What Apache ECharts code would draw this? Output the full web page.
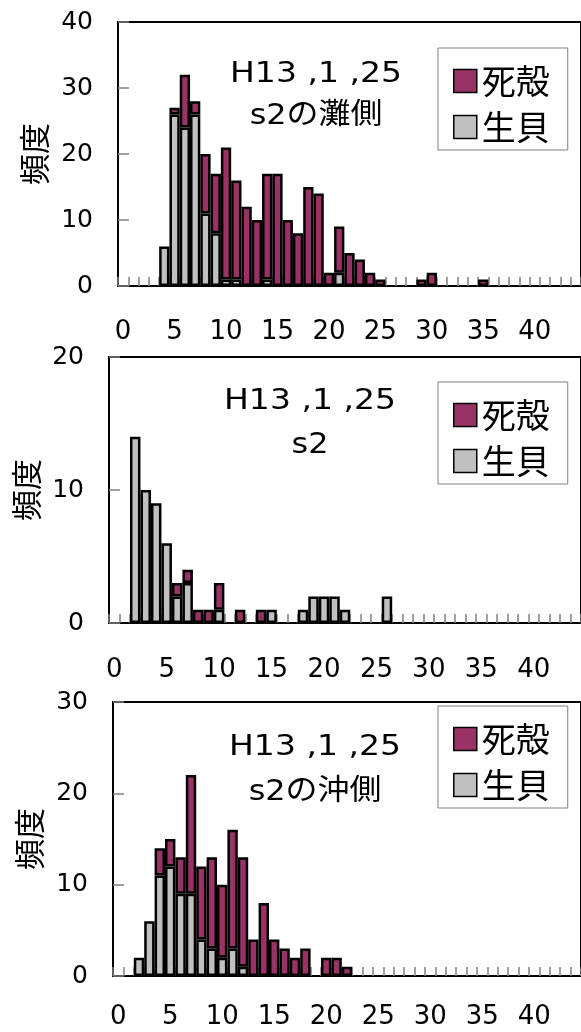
<!DOCTYPE html>
<html>
<head>
<meta charset="utf-8">
<script src="https://cdn.jsdelivr.net/npm/echarts@6/dist/echarts.min.js"></script>
<style>
  html, body { margin: 0; padding: 0; background: #fff; }
  #chart { width: 581px; height: 1032px; }
</style>
</head>
<body>
<div id="chart"></div>
<script>
// Size classes (mm), shared by all three panels
const categories = ['0','1','2','3','4','5','6','7','8','9','10','11','12','13','14','15','16','17','18','19','20','21','22','23','24','25','26','27','28','29','30','31','32','33','34','35','36','37','38','39','40','41','42','43','44'];

// Panel 1: H13,1,25 st2の灘側
const live1 = [0,0,0,0,6,26,24,26,11,8,1,1,0,0,1,0,0,0,0,0,0,2,0,0,0,0,0,0,0,0,0,0,0,0,0,0,0,0,0,0,0,0,0,0,0];
const dead1 = [0,0,0,0,0,1,8,2,9,9,20,15,12,10,16,17,10,8,15,14,2,7,5,4,2,1,0,0,0,1,2,0,0,0,0,1,0,0,0,0,0,0,0,0,0];

// Panel 2: H13,1,25 st2
const live2 = [0,0,14,10,9,6,2,3,0,0,1,0,0,0,0,1,0,0,1,2,2,2,1,0,0,0,2,0,0,0,0,0,0,0,0,0,0,0,0,0,0,0,0,0,0];
const dead2 = [0,0,0,0,0,0,1,1,1,1,2,0,1,0,1,0,0,0,0,0,0,0,0,0,0,0,0,0,0,0,0,0,0,0,0,0,0,0,0,0,0,0,0,0,0];

// Panel 3: H13,1,25 st2の沖側
const live3 = [0,0,2,6,11,12,9,9,4,3,2,3,1,0,0,0,0,0,0,0,0,0,0,0,0,0,0,0,0,0,0,0,0,0,0,0,0,0,0,0,0,0,0,0,0];
const dead3 = [0,0,0,0,3,3,4,13,8,10,8,13,12,4,8,4,3,2,3,0,2,2,1,0,0,0,0,0,0,0,0,0,0,0,0,0,0,0,0,0,0,0,0,0,0];

const yMax = [40, 20, 30];
const titles1 = ['H13 ,1 ,25', 'H13 ,1 ,25', 'H13 ,1 ,25'];
const titles2 = ['s2の灘側', 's2', 's2の沖側'];
const legendNames = ['死殻', '生貝'];
const yName = '頻度';

const MAROON = '#993366';
const GRAY = '#C0C0C0';
const LATIN = '"DejaVu Sans", sans-serif';
const CJK = '"Noto Sans CJK JP", sans-serif';

const grids = [
  { left: 118, top: 22, width: 465, height: 264 },
  { left: 109, top: 357, width: 482, height: 266 },
  { left: 113, top: 702, width: 475, height: 274 }
];
const nameGaps = [68, 65, 68];
const labelMargins = [33, 34, 28];
const legendTops = [48, 382, 706];
const titlePos = [
  { x: 316, y1: 75, y2: 116 },
  { x: 310, y1: 402, y2: 445 },
  { x: 315, y1: 748, y2: 792 }
];

const lives = [live1, live2, live3];
const deads = [dead1, dead2, dead3];
const blank = v => (v === 0 ? '-' : v);

const option = {
  backgroundColor: '#fff',
  animation: false,
  grid: grids.map(g => Object.assign({ show: true, borderColor: '#000', borderWidth: 2, backgroundColor: 'transparent' }, g)),
  xAxis: grids.map((g, i) => ({
    type: 'category',
    gridIndex: i,
    data: categories,
    boundaryGap: true,
    axisLine: { show: true, lineStyle: { color: '#000', width: 2 } },
    axisTick: { show: true, inside: true, length: 9, interval: 0, lineStyle: { color: '#808080', width: 1.5 } },
    axisLabel: { interval: 4, margin: labelMargins[i], color: '#000', fontFamily: LATIN, fontSize: 26 },
    splitLine: { show: false }
  })),
  yAxis: grids.map((g, i) => ({
    type: 'value',
    gridIndex: i,
    min: 0,
    max: yMax[i],
    interval: 10,
    name: yName,
    nameLocation: 'middle',
    nameRotate: 90,
    nameGap: nameGaps[i],
    nameTextStyle: { color: '#000', fontFamily: CJK, fontSize: 31 },
    axisLine: { show: true, lineStyle: { color: '#000', width: 2 } },
    axisTick: { show: true, inside: true, length: 11, lineStyle: { color: '#808080', width: 1.5 } },
    axisLabel: { margin: 25, color: '#000', fontFamily: LATIN, fontSize: 25 },
    splitLine: { show: false }
  })),
  legend: legendTops.map(t => ({
    data: legendNames,
    orient: 'vertical',
    left: 438,
    top: t,
    padding: [16, 18, 6, 15],
    itemGap: 12,
    itemWidth: 23,
    itemHeight: 23,
    icon: 'rect',
    borderColor: '#808080',
    borderWidth: 1,
    backgroundColor: '#fff',
    textStyle: { color: '#000', fontFamily: CJK, fontSize: 34, lineHeight: 34 },
    itemStyle: { borderColor: '#000', borderWidth: 1.5 },
    selectedMode: false
  })),
  series: [],
  graphic: []
};

for (let i = 0; i < 3; i++) {
  option.series.push({
    name: '生貝', type: 'bar', stack: 's' + i, xAxisIndex: i, yAxisIndex: i,
    data: lives[i].map(blank), barCategoryGap: '0%',
    itemStyle: { color: GRAY, borderColor: '#000', borderWidth: 2.5 }
  });
  option.series.push({
    name: '死殻', type: 'bar', stack: 's' + i, xAxisIndex: i, yAxisIndex: i,
    data: deads[i].map(blank), barCategoryGap: '0%',
    itemStyle: { color: MAROON, borderColor: '#000', borderWidth: 2.5 }
  });
  const p = titlePos[i];
  option.graphic.push({
    type: 'text', x: p.x, y: p.y1, scaleX: 1.18, z: 100,
    style: { text: titles1[i], fontFamily: LATIN, fontSize: 28, fill: '#000', align: 'center', verticalAlign: 'middle' }
  });
  option.graphic.push({
    type: 'text', x: p.x, y: p.y2, scaleX: 1.1, z: 100,
    style: { text: titles2[i], fontFamily: LATIN + ',' + CJK, fontSize: 29, fill: '#000', align: 'center', verticalAlign: 'middle' }
  });
}

const chart = echarts.init(document.getElementById('chart'), null, { renderer: 'canvas' });
chart.setOption(option);
</script>
</body>
</html>
